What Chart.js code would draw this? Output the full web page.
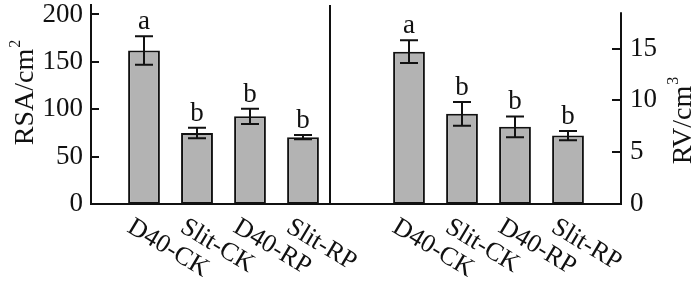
<!DOCTYPE html>
<html>
<head>
<meta charset="utf-8">
<script src="https://cdn.jsdelivr.net/npm/chart.js@4"></script>
<style>
  html, body { margin: 0; padding: 0; background: #fff; }
  #wrap { width: 700px; height: 287px; position: relative; }
</style>
</head>
<body>
<div id="wrap"><canvas id="chart"></canvas></div>
<script>
"use strict";

var groups = ["D40-CK", "Slit-CK", "D40-RP", "Slit-RP"];
var rsaValues = [162, 75, 92.5, 70.5];
var rsaErrors = [15, 5.5, 8, 2.3];
var rsaLetters = ["a", "b", "b", "b"];
var rvValues = [14.7, 8.7, 7.45, 6.6];
var rvErrors = [1.1, 1.15, 1.0, 0.45];
var rvLetters = ["a", "b", "b", "b"];
var rsaTicks = [0, 50, 100, 150, 200];
var rvTicks = [0, 5, 10, 15];

var FONT = "'Liberation Serif', 'Times New Roman', serif";
var rvAxisTop = 18.5;

// slots: empty, 4 RSA bars, divider, 4 RV bars, empty
var slots = [""].concat(groups, [""], groups, [""]);
function pad(arr, before, after) {
  var out = [];
  for (var i = 0; i < before; i++) out.push(null);
  out = out.concat(arr);
  for (var j = 0; j < after; j++) out.push(null);
  return out;
}

var extrasPlugin = {
  id: "extras",
  afterDatasetsDraw: function(chart) {
    var ctx = chart.ctx;
    ctx.save();
    ctx.strokeStyle = "#111";
    ctx.fillStyle = "#111";
    ctx.lineWidth = 2;
    ctx.font = "27px " + FONT;
    ctx.textAlign = "center";
    ctx.textBaseline = "alphabetic";
    chart.data.datasets.forEach(function(ds, d) {
      var meta = chart.getDatasetMeta(d);
      var scale = chart.scales[meta.yAxisID];
      meta.data.forEach(function(bar, i) {
        var v = ds.data[i];
        if (v === null) return;
        var e = ds.errors[i];
        var top = scale.getPixelForValue(v + e);
        var bot = scale.getPixelForValue(v - e);
        ctx.beginPath();
        ctx.moveTo(bar.x, top); ctx.lineTo(bar.x, bot);
        ctx.moveTo(bar.x - 9, top); ctx.lineTo(bar.x + 9, top);
        ctx.moveTo(bar.x - 9, bot); ctx.lineTo(bar.x + 9, bot);
        ctx.stroke();
        ctx.fillText(ds.letters[i], bar.x, top - 7);
      });
    });
    ctx.restore();
  },
  afterDraw: function(chart) {
    var ctx = chart.ctx;
    var x = chart.scales.x, y = chart.scales.y, y1 = chart.scales.y1;
    ctx.save();
    ctx.strokeStyle = "#111";
    ctx.lineWidth = 2;

    // inward tick marks
    ctx.beginPath();
    y.ticks.forEach(function(t) {
      var py = Math.round(y.getPixelForValue(t.value));
      ctx.moveTo(y.right, py); ctx.lineTo(y.right + 8, py);
    });
    y1.ticks.forEach(function(t) {
      var py = Math.round(y1.getPixelForValue(t.value));
      ctx.moveTo(y1.left - 9, py); ctx.lineTo(y1.left, py);
    });
    // right axis line
    ctx.moveTo(y1.left, y1.getPixelForValue(rvAxisTop));
    ctx.lineTo(y1.left, y1.bottom + 1);
    ctx.stroke();

    // rotated category labels
    ctx.fillStyle = "#111";
    ctx.font = "26px " + FONT;
    ctx.textAlign = "left";
    ctx.textBaseline = "alphabetic";
    slots.forEach(function(lab, i) {
      if (!lab) return;
      ctx.save();
      ctx.translate(x.getPixelForValue(i) - 18, x.top + 27);
      ctx.rotate(31 * Math.PI / 180);
      ctx.fillText(lab, 0, 0);
      ctx.restore();
    });

    // axis titles, reading bottom to top
    drawTitle(ctx, 24, 93, "RSA/cm", "2");
    drawTitle(ctx, 682, 121, "RV/cm", "3");
    ctx.restore();
  }
};

function drawTitle(ctx, cx, cy, main, sup) {
  ctx.save();
  ctx.translate(cx, cy);
  ctx.rotate(-Math.PI / 2);
  ctx.font = "28px " + FONT;
  var w = ctx.measureText(main).width;
  ctx.font = "16px " + FONT;
  var ws = ctx.measureText(sup).width;
  var start = -(w + ws) / 2;
  ctx.textAlign = "left";
  ctx.textBaseline = "alphabetic";
  ctx.font = "28px " + FONT;
  ctx.fillText(main, start, 9);
  ctx.font = "16px " + FONT;
  ctx.fillText(sup, start + w + 1, -4);
  ctx.restore();
}

function noPad(scale) {
  scale.paddingTop = 0;
  scale.paddingBottom = 0;
  scale.paddingLeft = 0;
  scale.paddingRight = 0;
}

new Chart(document.getElementById("chart"), {
  type: "bar",
  data: {
    labels: slots,
    datasets: [{
      label: "RSA",
      yAxisID: "y",
      data: pad(rsaValues, 1, 6),
      errors: pad(rsaErrors, 1, 6),
      letters: pad(rsaLetters, 1, 6),
      backgroundColor: "#b3b3b3",
      borderColor: "#111",
      borderWidth: 2,
      borderSkipped: false,
      grouped: false,
      barPercentage: 0.6,
      categoryPercentage: 1
    }, {
      label: "RV",
      yAxisID: "y1",
      data: pad(rvValues, 6, 1),
      errors: pad(rvErrors, 6, 1),
      letters: pad(rvLetters, 6, 1),
      backgroundColor: "#b3b3b3",
      borderColor: "#111",
      borderWidth: 2,
      borderSkipped: false,
      grouped: false,
      barPercentage: 0.6,
      categoryPercentage: 1
    }]
  },
  options: {
    responsive: true,
    maintainAspectRatio: false,
    animation: false,
    layout: { padding: { top: 5 } },
    plugins: {
      legend: { display: false },
      tooltip: { enabled: false }
    },
    scales: {
      x: {
        type: "category",
        offset: false,
        ticks: { display: false },
        grid: {
          display: true,
          drawTicks: false,
          lineWidth: 2,
          color: function(c) { return c.index === 5 ? "#111" : "rgba(0,0,0,0)"; }
        },
        border: { display: true, color: "#111", width: 2 },
        afterFit: function(s) { s.height = 83; noPad(s); }
      },
      y: {
        position: "left",
        min: 0,
        max: 210,
        grid: { display: false, drawTicks: false },
        border: { display: true, color: "#111", width: 2 },
        ticks: {
          stepSize: 50,
          includeBounds: false,
          padding: 8,
          color: "#111",
          font: { family: FONT, size: 27 },
          callback: function(v) { return rsaTicks.indexOf(v) >= 0 ? v : null; }
        },
        afterFit: function(s) { s.width = 91; noPad(s); }
      },
      y1: {
        position: "right",
        min: 0,
        max: 19.2,
        grid: { display: false, drawTicks: false },
        border: { display: false },
        ticks: {
          stepSize: 5,
          includeBounds: false,
          padding: 9,
          color: "#111",
          font: { family: FONT, size: 27 },
          callback: function(v) { return rvTicks.indexOf(v) >= 0 ? v : null; }
        },
        afterFit: function(s) { s.width = 79; noPad(s); }
      }
    }
  },
  plugins: [extrasPlugin]
});
</script>
</body>
</html>
